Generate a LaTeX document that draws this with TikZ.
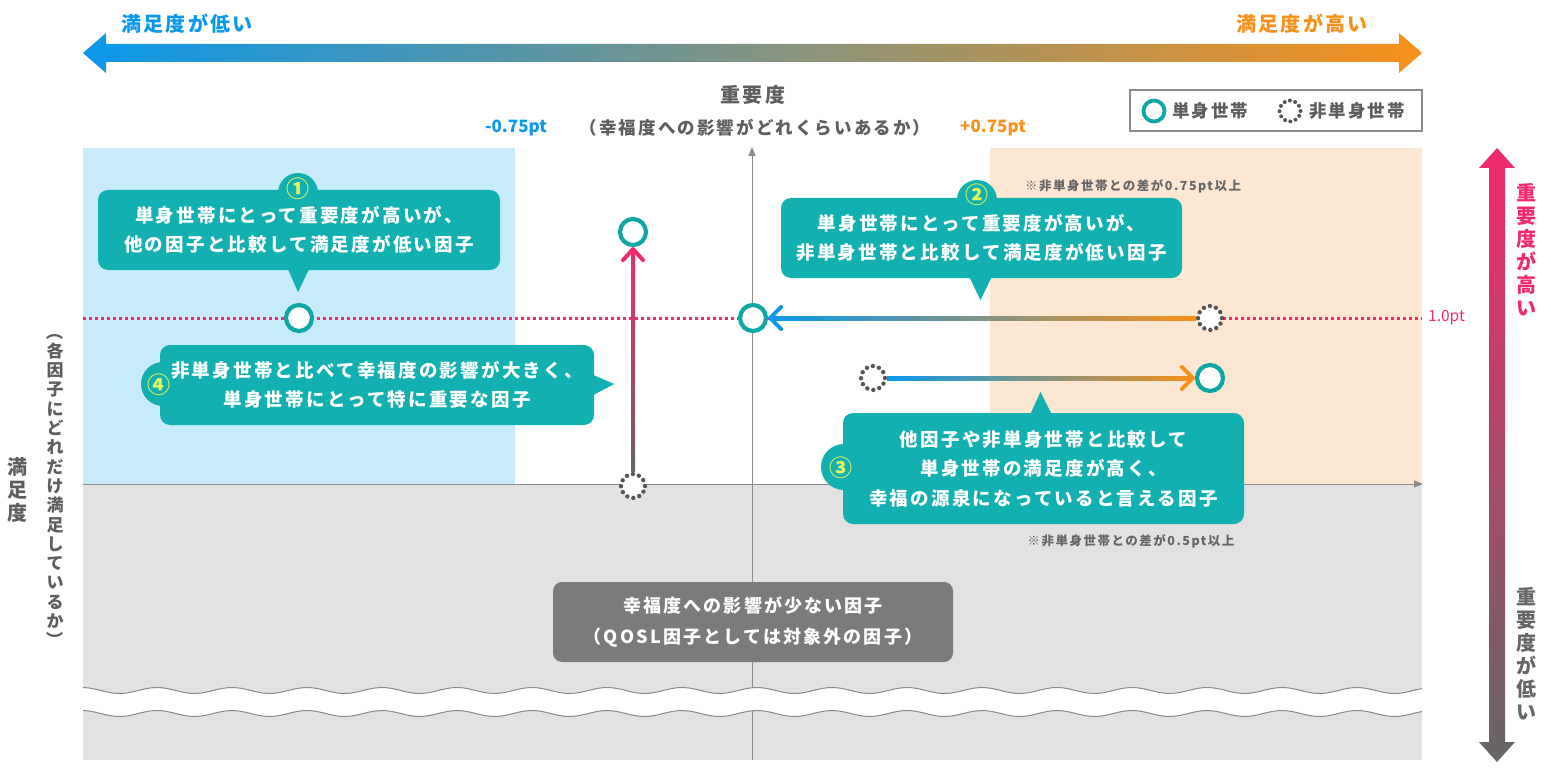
\documentclass[tikz,border=0pt]{standalone}
\usepackage{fontspec}
\usepackage{graphicx}
\setmainfont{Noto Sans CJK JP}[LetterSpace=12]
\newfontfamily\jpn{Noto Sans CJK JP}
\usetikzlibrary{calc,arrows.meta}
\definecolor{teal1}{HTML}{12B0B0}
\definecolor{ring}{HTML}{0FA6A6}
\definecolor{bgblue}{HTML}{C8EBFB}
\definecolor{bgorange}{HTML}{FDE7D3}
\definecolor{bggray}{HTML}{E2E2E2}
\definecolor{boxgray}{HTML}{7B7B7B}
\definecolor{txtgray}{HTML}{5E5E5E}
\definecolor{pinkc}{HTML}{F02A6C}
\definecolor{bluec}{HTML}{0A98EC}
\definecolor{midc}{HTML}{6F9298}
\definecolor{orangec}{HTML}{F8901A}
\definecolor{numyellow}{HTML}{E2F55C}
\definecolor{dotgray}{HTML}{555555}
\definecolor{arrgray}{HTML}{666666}
\definecolor{axisgray}{HTML}{8C8C8C}
\definecolor{wavegray}{HTML}{8A8A8A}
\begin{document}
\begin{tikzpicture}[x=1pt,y=-1pt,
  single/.style={circle, draw=ring, line width=4.2pt, fill=white, minimum size=26pt, inner sep=0pt},
  multi/.style={circle, draw=dotgray, line width=4.4pt, fill=white, minimum size=24pt, inner sep=0pt, dash pattern=on 0pt off 6.28pt, line cap=round},
  callout/.style={rectangle, rounded corners=10pt, fill=teal1, text=white, align=center, inner sep=0pt, font=\bfseries\fontsize{18.5}{29.5}\selectfont},
  graybox/.style={rectangle, rounded corners=9pt, fill=boxgray, text=white, align=center, inner sep=0pt, font=\bfseries\fontsize{18}{31}\selectfont},
  num/.style={text=numyellow, font=\jpn\bfseries\fontsize{23}{23}\selectfont, inner sep=0pt},
  axis/.style={axisgray, line width=1pt, -{Triangle[length=9pt,width=7pt]}},
  chev/.style={line width=4pt, line cap=round, line join=round},
  lbl/.style={text=txtgray, font=\bfseries\fontsize{17.5}{20}\selectfont, inner sep=0pt},
  note/.style={text=arrgray, font=\bfseries\fontsize{12.5}{14}\selectfont, inner sep=0pt},
  vlbl/.style={align=center, inner sep=0pt, font=\bfseries\fontsize{20}{23}\selectfont}
]
\useasboundingbox (0,0) rectangle (1551,773);

% backgrounds
\fill[bgblue] (83,148) rectangle (515,484);
\fill[bgorange] (990,148) rectangle (1422,484);
\fill[bggray] (83,484) rectangle (1422,760);

% axes
\coordinate (xa0) at (83,484); \coordinate (xa1) at (1423,484);
\coordinate (ya0) at (752,760); \coordinate (ya1) at (752,147);
\draw[axis] (xa0) -- (xa1);
\draw[axis] (ya0) -- (ya1);

% wave band
\fill[white] plot[domain=83:1422, samples=240] (\x, {690.5-3*cos(4.8*(\x-157))})
  -- plot[domain=1422:83, samples=240] (\x, {713.5-3*cos(4.8*(\x-157))}) -- cycle;
\draw[wavegray, line width=1pt] plot[domain=83:1422, samples=240] (\x, {690.5-3*cos(4.8*(\x-157))});
\draw[wavegray, line width=1pt] plot[domain=83:1422, samples=240] (\x, {713.5-3*cos(4.8*(\x-157))});

% top gradient arrow
\shade[left color=bluec, middle color=midc, right color=orangec]
  (83,53) -- (106,33) -- (106,44) -- (1399,44) -- (1399,33) -- (1422,53)
  -- (1399,73) -- (1399,62) -- (106,62) -- (106,73) -- cycle;
\node[text=bluec, font=\bfseries\fontsize{20}{22}\selectfont, inner sep=0pt] (lowsat) at (187,24) {満足度が低い};
\node[text=orangec, font=\bfseries\fontsize{20}{22}\selectfont, inner sep=0pt] (highsat) at (1302,24) {満足度が高い};

% right vertical gradient arrow
\shade[top color=pinkc, bottom color=arrgray]
  (1497,148) -- (1515,168) -- (1505,168) -- (1505,742) -- (1515,742) -- (1497,762)
  -- (1479,742) -- (1489,742) -- (1489,168) -- (1479,168) -- cycle;
\node[vlbl, text=pinkc] (himp) at (1526,250) {重\\要\\度\\が\\高\\い};
\node[vlbl, text=arrgray] (loimp) at (1526,654) {重\\要\\度\\が\\低\\い};

% axis titles
\node[lbl, font=\bfseries\fontsize{20}{22}\selectfont] (imp) at (753,95) {重要度};
\node[lbl] (impsub) at (755,128) {（幸福度への影響がどれくらいあるか）};
\node[text=bluec, font=\jpn\bfseries\fontsize{17}{20}\selectfont, inner sep=0pt] (m075) at (516,128) {-0.75pt};
\node[text=orangec, font=\jpn\bfseries\fontsize{17}{20}\selectfont, inner sep=0pt] (p075) at (993,128) {+0.75pt};
\node[vlbl, text=txtgray] (sat) at (17,490) {満\\足\\度};
\node[align=center, inner sep=0pt, text=txtgray, font=\bfseries\fontsize{17}{19.3}\selectfont] (satsub) at (55,486)
  {\rotatebox[origin=c]{-90}{（}\\各\\因\\子\\に\\ど\\れ\\だ\\け\\満\\足\\し\\て\\い\\る\\か\\\rotatebox[origin=c]{-90}{）}};

% legend
\node[draw=axisgray, line width=1.5pt, minimum width=292pt, minimum height=41pt, inner sep=0pt] (leg) at (1276,110.5) {};
\node[single, minimum size=21pt, line width=3.8pt] (lg1) at (1154,111) {};
\node[lbl, anchor=west] (lgt1) at (1172,111) {単身世帯};
\node[multi, minimum size=21pt, line width=4pt, dash pattern=on 0pt off 5.5pt] (lg2) at (1290,111) {};
\node[lbl, anchor=west] (lgt2) at (1309,111) {非単身世帯};

% pink dotted line at 1.0pt
\coordinate (dl) at (83,318); \coordinate (dr) at (1422,318);
\draw[pinkc, line width=3pt, dash pattern=on 3pt off 3pt] (dl) -- (dr);
\node[text=pinkc, font=\jpn\fontsize{15.5}{16}\selectfont, inner sep=0pt, anchor=west] (onept) at ($(dr)+(6,0)$) {1.0pt};

% data circles
\node[single] (s1) at (299,318) {};
\node[single] (s4) at (633,232) {};
\node[single] (s2) at (753,318) {};
\node[single] (s3) at (1210,378) {};
\node[multi] (m4) at (633,486) {};
\node[multi] (m2) at (1210,318) {};
\node[multi] (m3) at (873,378) {};

% arrows
\shade[top color=pinkc, bottom color=arrgray] ($(m4.north)+(-2,0)$) rectangle ($(s4.south)+(2,3)$);
\draw[chev, pinkc] ($(s4.south)+(-10,13)$) -- ($(s4.south)+(0,2)$) -- ($(s4.south)+(10,13)$);
\shade[left color=bluec, right color=orangec] ($(s2.east)+(3,-2)$) rectangle ($(m2.west)+(0,2)$);
\draw[chev, bluec] ($(s2.east)+(13,-11)$) -- ($(s2.east)+(2,0)$) -- ($(s2.east)+(13,11)$);
\shade[left color=bluec, right color=orangec] ($(m3.east)+(0,-2)$) rectangle ($(s3.west)+(-3,2)$);
\draw[chev, orangec] ($(s3.west)+(-13,-11)$) -- ($(s3.west)+(-2,0)$) -- ($(s3.west)+(-13,11)$);

% callout 1
\fill[teal1] (298,193) circle (20);
\node[callout, minimum width=402pt, minimum height=80pt] (b1) at (299,230) {単身世帯にとって重要度が高いが、\\他の因子と比較して満足度が低い因子};
\fill[teal1] ($(b1.south)+(-11,-1)$) -- ($(b1.south)+(-1,22)$) -- ($(b1.south)+(10,-1)$) -- cycle;
\node[num] (n1) at (298,189) {①};

% callout 2
\fill[teal1] (977,200) circle (20);
\node[callout, minimum width=401pt, minimum height=80pt] (b2) at (981.5,238) {単身世帯にとって重要度が高いが、\\非単身世帯と比較して満足度が低い因子};
\fill[teal1] ($(b2.south)+(-12,-1)$) -- ($(b2.south)+(-1,22)$) -- ($(b2.south)+(10,-1)$) -- cycle;
\node[num] (n2) at (977,195) {②};
\node[note] (note2) at (1133,186) {※非単身世帯との差が0.75pt以上};

% callout 4
\fill[teal1] (163,384) circle (22);
\node[callout, minimum width=434pt, minimum height=80pt] (b4) at (377,385) {非単身世帯と比べて幸福度の影響が大きく、\\単身世帯にとって特に重要な因子};
\fill[teal1] ($(b4.east)+(-1,-10)$) -- ($(b4.east)+(20,-1)$) -- ($(b4.east)+(-1,10)$) -- cycle;
\node[num] (n4) at (159,385) {④};

% callout 3
\fill[teal1] (844,467) circle (23);
\node[callout, minimum width=401pt, minimum height=111pt] (b3) at (1043.5,468.5) {他因子や非単身世帯と比較して\\単身世帯の満足度が高く、\\幸福の源泉になっていると言える因子};
\fill[teal1] ($(b3.north)+(-13,1)$) -- ($(b3.north)+(-3,-21)$) -- ($(b3.north)+(8,1)$) -- cycle;
\node[num] (n3) at (841,468) {③};
\node[note] (note3) at (1131,541) {※非単身世帯との差が0.5pt以上};

% gray box
\node[graybox, minimum width=400pt, minimum height=80pt] (gb) at (753,622) {幸福度への影響が少ない因子\\（QOSL因子としては対象外の因子）};
\end{tikzpicture}
\end{document}
